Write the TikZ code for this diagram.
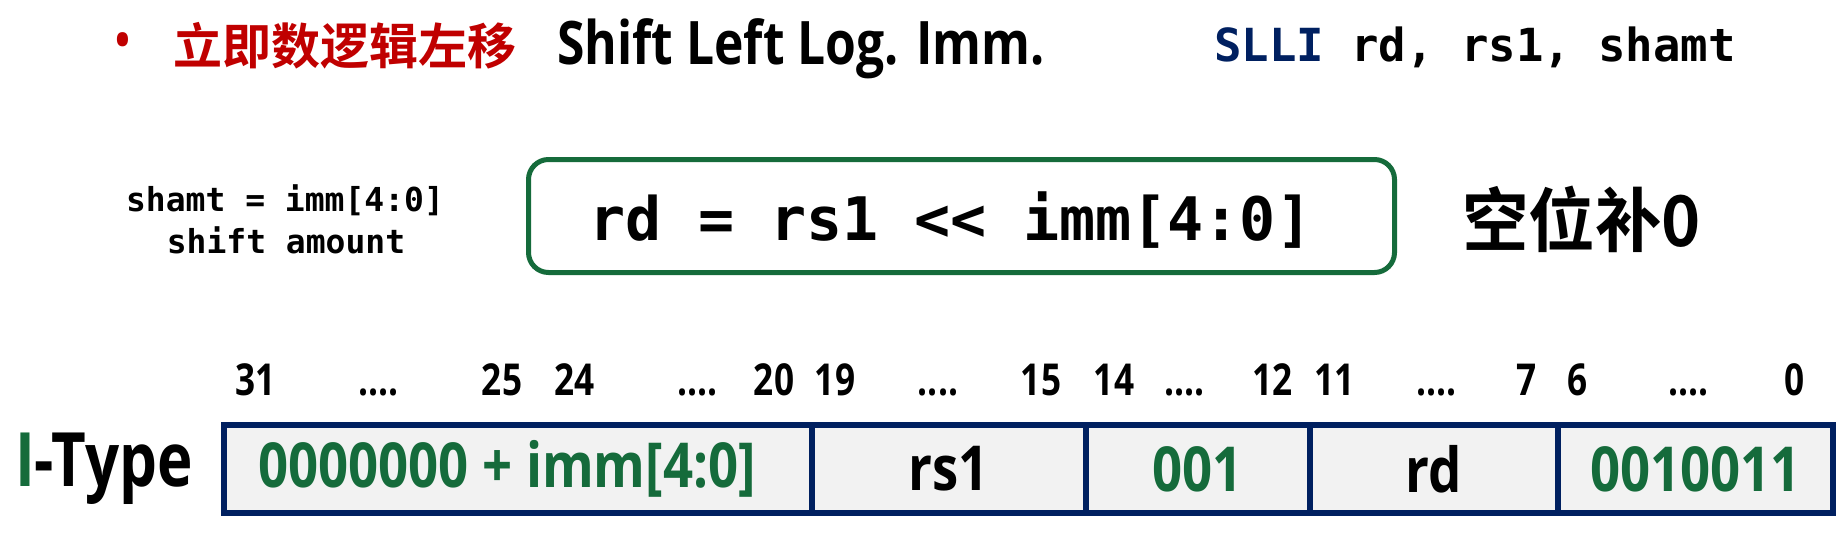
\documentclass[tikz,border=0pt]{standalone}
\usepackage{fontspec}
\setmainfont{Open Sans}
\newfontfamily\latb{Open Sans}[FakeStretch=0.86]
\newfontfamily\latc{Open Sans}[FakeStretch=0.83]
\newfontfamily\latn{Open Sans}[FakeStretch=0.8]
\newfontfamily\latm{Open Sans}[FakeStretch=0.85]
\newfontfamily\cjk{Noto Sans CJK SC}[BoldFont={Noto Sans CJK SC Bold}]
\newfontfamily\cjkn{Noto Sans CJK SC}[BoldFont={Noto Sans CJK SC Bold}, FakeStretch=0.95]
\newfontfamily\mono{DejaVu Sans Mono}
\definecolor{tred}{HTML}{C00000}
\definecolor{tgreen}{HTML}{156B3B}
\definecolor{tblue}{HTML}{002060}
\definecolor{cellgray}{HTML}{F2F2F2}
\tikzset{
  bitlbl/.style={anchor=base, inner sep=0pt, font=\latn\bfseries\fontsize{44}{44}\selectfont},
  cellbox/.style={draw=tblue, line width=6pt, fill=cellgray, minimum height=88pt, anchor=north west, inner sep=0pt,
    font=\latm\bfseries\fontsize{62}{62}\selectfont},
}
\begin{document}
\begin{tikzpicture}[x=1pt,y=-1pt]
\useasboundingbox (0,0) rectangle (1839,533);
% title line
\node[text=tred, inner sep=0pt, font=\latb\bfseries\fontsize{46}{46}\selectfont] (bullet) at (123,45) {•};
\node[anchor=base west, inner sep=0pt, text=tred, font=\cjk\bfseries\fontsize{49}{49}\selectfont] (title) at (173,64) {立即数逻辑左移};
\node[anchor=base west, inner sep=0pt, font=\latc\bfseries\fontsize{60}{60}\selectfont] (eng) at (557,64) {Shift Left Log. Imm.};
\node[anchor=base west, inner sep=0pt, font=\mono\bfseries\fontsize{45.6}{45.6}\selectfont] (asm) at (1214,61) {\textcolor{tblue}{SLLI} rd, rs1, shamt};
% shamt note
\node[anchor=base, inner sep=0pt, font=\mono\bfseries\fontsize{33}{33}\selectfont] (note1) at (285,211) {shamt = imm[4:0]};
\node[anchor=base, inner sep=0pt, font=\mono\bfseries\fontsize{33}{33}\selectfont] (note2) at (286,253) {shift amount};
% equation box
\node[draw=tgreen, line width=5pt, rounded corners=20pt, minimum width=866pt, minimum height=113pt, inner sep=0pt] (eqbox) at (961.5,216) {};
\node[anchor=base, inner sep=0pt, font=\mono\bfseries\fontsize{60}{60}\selectfont] (eq) at (951,240) {rd = rs1 << imm[4:0]};
\node[anchor=base west, inner sep=0pt, font=\cjkn\bfseries\fontsize{70}{70}\selectfont] (fill0) at (1462,246) {空位补0};
% bit numbers
\node[bitlbl] (b31) at (255.7,395) {31};
\node[bitlbl] (d1) at (378.8,395) {....};
\node[bitlbl] (b25) at (502,395) {25};
\node[bitlbl] (b24) at (574.7,395) {24};
\node[bitlbl] (d2) at (697.8,395) {....};
\node[bitlbl] (b20) at (774,395) {20};
\node[bitlbl] (b19) at (835,395) {19};
\node[bitlbl] (d3) at (938,395) {....};
\node[bitlbl] (b15) at (1041,395) {15};
\node[bitlbl] (b14) at (1114,395) {14};
\node[bitlbl] (d4) at (1184.5,395) {....};
\node[bitlbl] (b12) at (1272.5,395) {12};
\node[bitlbl] (b11) at (1334.6,395) {11};
\node[bitlbl] (d5) at (1436.7,395) {....};
\node[bitlbl] (b7) at (1527,395) {7};
\node[bitlbl] (b6) at (1577.4,395) {6};
\node[bitlbl] (d6) at (1688.8,395) {....};
\node[bitlbl] (b0) at (1794.4,395) {0};
% I-Type
\node[anchor=base, inner sep=0pt, font=\latn\bfseries\fontsize{75}{75}\selectfont] (itype) at (104,486) {\textcolor{tgreen}{I}-Type};
% register cells
\node[cellbox, minimum width=588.7pt, text=tgreen] (c1) at (220.5,422) {0000000 + imm[4:0]\hspace*{22pt}};
\node[cellbox, minimum width=273.3pt] (c2) at (809.2,422) {rs1};
\node[cellbox, minimum width=224pt, text=tgreen] (c3) at (1082.5,422) {001};
\node[cellbox, minimum width=248.5pt] (c4) at (1306.5,422) {rd};
\node[cellbox, minimum width=274.6pt, text=tgreen] (c5) at (1555,422) {0010011};
\end{tikzpicture}
\end{document}
